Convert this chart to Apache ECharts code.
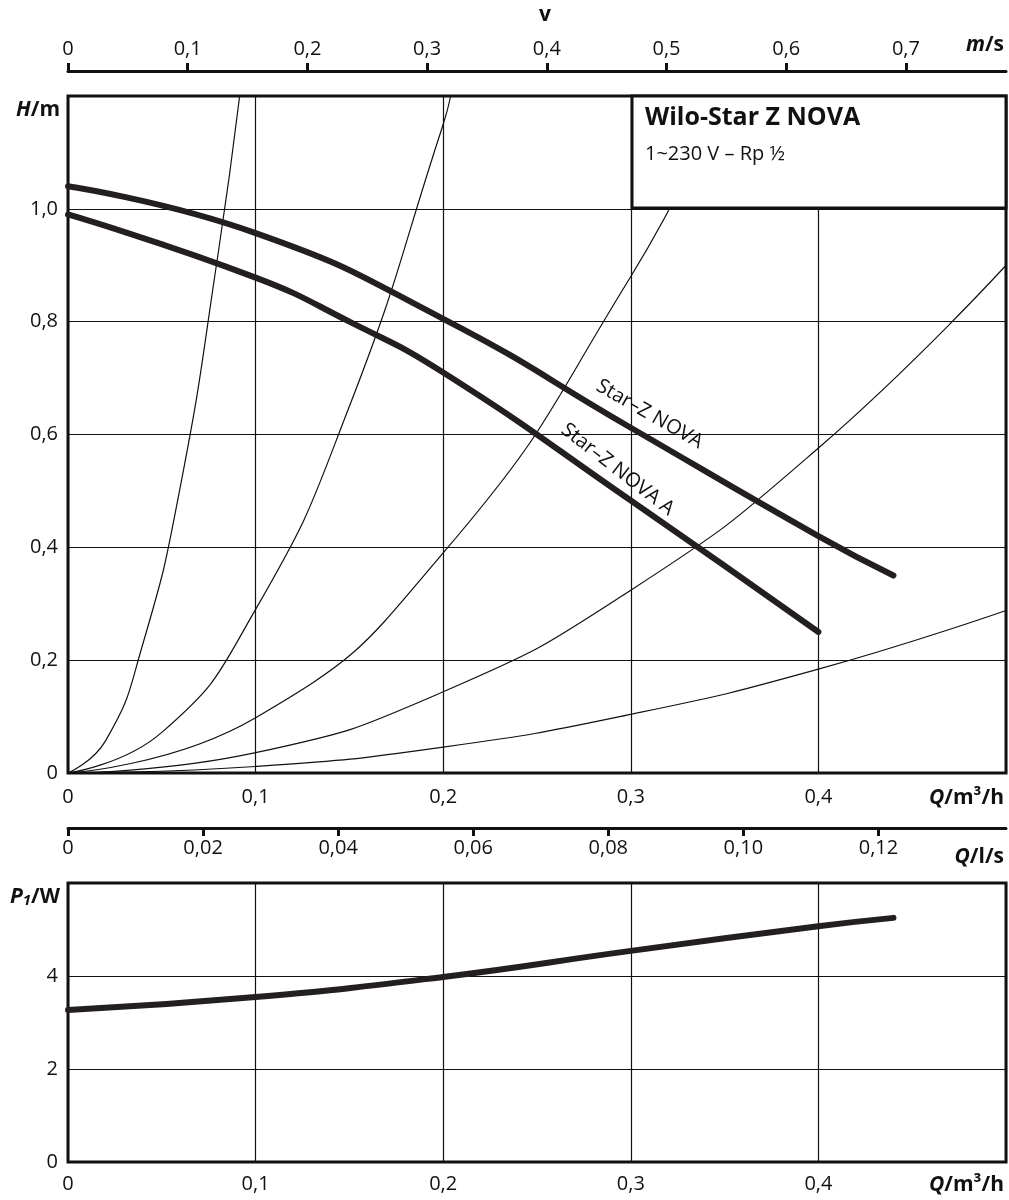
<!DOCTYPE html>
<html>
<head>
<meta charset="utf-8">
<script src="https://cdn.jsdelivr.net/npm/echarts@6/dist/echarts.min.js"></script>
<style>
  body { margin: 0; background: #fff; }
  #chart { width: 1009px; height: 1200px; }
</style>
</head>
<body>
<div id="chart"></div>
<script>
// pump curves H(Q), Q in m3/h
var novaQ = [0, 0.1, 0.2, 0.3, 0.4, 0.44];
var novaH = [1.04, 0.957, 0.805, 0.612, 0.42, 0.35];
var novaAQ = [0, 0.1, 0.15, 0.2, 0.3, 0.4];
var novaAH = [0.99, 0.878, 0.80, 0.71, 0.483, 0.25];
// power P1(Q)
var powerQ = [0, 0.1, 0.2, 0.3, 0.4, 0.44];
var powerP = [3.27, 3.55, 3.98, 4.54, 5.07, 5.25];
// system curves
var sys1Q = [0, 0.02, 0.04, 0.06, 0.08, 0.0915];
var sys1H = [0, 0.057, 0.23, 0.51, 0.92, 1.2];
var sys2Q = [0, 0.05, 0.1, 0.15, 0.2, 0.204];
var sys2H = [0, 0.072, 0.29, 0.65, 1.15, 1.2];
var sys3Q = [0, 0.1, 0.2, 0.3, 0.35];
var sys3H = [0, 0.098, 0.39, 0.88, 1.2];
var sys4Q = [0, 0.1, 0.2, 0.3, 0.4, 0.5];
var sys4H = [0, 0.036, 0.144, 0.324, 0.576, 0.90];
var sys5Q = [0, 0.1, 0.2, 0.3, 0.4, 0.5];
var sys5H = [0, 0.0115, 0.046, 0.104, 0.184, 0.288];

var FONT = 'Open Sans';

function pairs(xs, ys) { return xs.map(function (x, i) { return [x, ys[i]]; }); }
function comma(d) { return function (v) { return v === 0 ? '0' : v.toFixed(d).replace('.', ','); }; }

var chart = echarts.init(document.getElementById('chart'));

var lbl = { color: '#111', fontSize: 20, fontFamily: FONT };
var gridLine = { show: true, lineStyle: { color: '#111', width: 1.2 } };

function sysSeries(xs, ys) {
  return { type: 'line', xAxisIndex: 0, yAxisIndex: 0, data: pairs(xs, ys), smooth: true,
    showSymbol: false, lineStyle: { color: '#111', width: 1.2 }, z: 2, silent: true };
}

var rich = {
  b: { fontFamily: FONT, fontSize: 21, fontWeight: 'bold', fontStyle: 'italic', fill: '#111' }
};

chart.setOption({
  animation: false,
  grid: [
    { left: 68, right: 3, top: 96, height: 677, show: true, borderColor: '#111', borderWidth: 3, backgroundColor: '#fff' },
    { left: 68, right: 3, top: 883, height: 279, show: true, borderColor: '#111', borderWidth: 3, backgroundColor: '#fff' }
  ],
  xAxis: [
    { gridIndex: 0, type: 'value', min: 0, max: 0.5, interval: 0.1, position: 'bottom',
      axisLine: { show: false }, axisTick: { show: false },
      axisLabel: Object.assign({ formatter: comma(1), margin: 14, showMaxLabel: false }, lbl),
      splitLine: gridLine },
    { gridIndex: 0, type: 'value', min: 0, max: 0.7836, interval: 0.1, position: 'top', offset: 25,
      axisLine: { show: true, onZero: false, lineStyle: { color: '#111', width: 3 } },
      axisTick: { show: true, length: 8, lineStyle: { color: '#111', width: 3 } },
      axisLabel: Object.assign({ formatter: comma(1), margin: 12, showMaxLabel: false }, lbl),
      splitLine: { show: false } },
    { gridIndex: 0, type: 'value', min: 0, max: 0.5 / 3.6, interval: 0.02, position: 'bottom', offset: 55,
      axisLine: { show: true, onZero: false, lineStyle: { color: '#111', width: 3 } },
      axisTick: { show: true, length: 8, lineStyle: { color: '#111', width: 3 } },
      axisLabel: Object.assign({ formatter: comma(2), margin: 10, showMaxLabel: false }, lbl),
      splitLine: { show: false } },
    { gridIndex: 1, type: 'value', min: 0, max: 0.5, interval: 0.1,
      axisLine: { show: false }, axisTick: { show: false },
      axisLabel: Object.assign({ formatter: comma(1), margin: 12, showMaxLabel: false }, lbl),
      splitLine: gridLine }
  ],
  yAxis: [
    { gridIndex: 0, type: 'value', min: 0, max: 1.2, interval: 0.2,
      axisLine: { show: false }, axisTick: { show: false },
      axisLabel: Object.assign({ formatter: comma(1), margin: 10, showMaxLabel: false }, lbl),
      splitLine: gridLine },
    { gridIndex: 1, type: 'value', min: 0, max: 6, interval: 2,
      axisLine: { show: false }, axisTick: { show: false },
      axisLabel: Object.assign({ margin: 10, showMaxLabel: false }, lbl),
      splitLine: gridLine }
  ],
  series: [
    sysSeries(sys1Q, sys1H), sysSeries(sys2Q, sys2H), sysSeries(sys3Q, sys3H),
    sysSeries(sys4Q, sys4H), sysSeries(sys5Q, sys5H),
    { type: 'line', xAxisIndex: 0, yAxisIndex: 0, data: pairs(novaQ, novaH), smooth: true, showSymbol: false,
      lineStyle: { color: '#231f20', width: 6, cap: 'round' }, z: 5 },
    { type: 'line', xAxisIndex: 0, yAxisIndex: 0, data: pairs(novaAQ, novaAH), smooth: true, showSymbol: false,
      lineStyle: { color: '#231f20', width: 6, cap: 'round' }, z: 5 },
    { type: 'line', xAxisIndex: 3, yAxisIndex: 1, data: pairs(powerQ, powerP), smooth: true, showSymbol: false,
      lineStyle: { color: '#231f20', width: 6, cap: 'round' }, z: 5 }
  ]
});

var p1 = chart.convertToPixel({ xAxisIndex: 0, yAxisIndex: 0 }, [0.31, 0.636]);
var p2 = chart.convertToPixel({ xAxisIndex: 0, yAxisIndex: 0 }, [0.293, 0.538]);
var txt = { fontFamily: FONT, fontSize: 20, fill: '#111' };
var bold = { fontFamily: FONT, fontSize: 21, fontWeight: 'bold', fill: '#111' };

chart.setOption({
  graphic: [
    { type: 'rect', shape: { x: 632, y: 96, width: 374, height: 112 }, z: 100,
      style: { fill: '#fff', stroke: '#111', lineWidth: 3 } },
    { type: 'text', x: 645, y: 105, z: 101,
      style: { text: 'Wilo-Star Z NOVA', fontFamily: FONT, fontSize: 25, fontWeight: 'bold', fill: '#111' } },
    { type: 'text', x: 645, y: 144, z: 101,
      style: Object.assign({ text: '1~230 V – Rp ½' }, txt) },
    { type: 'text', x: p1[0], y: p1[1], rotation: -0.52, z: 101,
      style: Object.assign({ text: 'Star–Z NOVA', align: 'center', verticalAlign: 'middle' }, txt) },
    { type: 'text', x: p2[0], y: p2[1], rotation: -0.66, z: 101,
      style: Object.assign({ text: 'Star–Z NOVA A', align: 'center', verticalAlign: 'middle' }, txt) },
    { type: 'text', x: 545, y: 15, style: { text: 'v', fontFamily: FONT, fontSize: 21, fontWeight: 'bold', fill: '#111', align: 'center', verticalAlign: 'middle' } },
    { type: 'text', x: 1004, y: 45, style: { text: '{b|m}/s', rich: rich, fontFamily: FONT, fontSize: 21, fontWeight: 'bold', fill: '#111', align: 'right', verticalAlign: 'middle' } },
    { type: 'text', x: 60, y: 110, style: { text: '{b|H}/m', rich: rich, fontFamily: FONT, fontSize: 21, fontWeight: 'bold', fill: '#111', align: 'right', verticalAlign: 'middle' } },
    { type: 'text', x: 1004, y: 798, style: { text: '{b|Q}/m³/h', rich: rich, fontFamily: FONT, fontSize: 21, fontWeight: 'bold', fill: '#111', align: 'right', verticalAlign: 'middle' } },
    { type: 'text', x: 1004, y: 857, style: { text: '{b|Q}/l/s', rich: rich, fontFamily: FONT, fontSize: 21, fontWeight: 'bold', fill: '#111', align: 'right', verticalAlign: 'middle' } },
    { type: 'text', x: 60, y: 897, style: { text: '{b|P}{s|1}/W', rich: { b: rich.b, s: { fontFamily: FONT, fontSize: 15, fontWeight: 'bold', fontStyle: 'italic', fill: '#111', padding: [8, 0, 0, 0] } }, fontFamily: FONT, fontSize: 21, fontWeight: 'bold', fill: '#111', align: 'right', verticalAlign: 'middle' } },
    { type: 'text', x: 1004, y: 1185, style: { text: '{b|Q}/m³/h', rich: rich, fontFamily: FONT, fontSize: 21, fontWeight: 'bold', fill: '#111', align: 'right', verticalAlign: 'middle' } }
  ]
});
</script>
</body>
</html>
